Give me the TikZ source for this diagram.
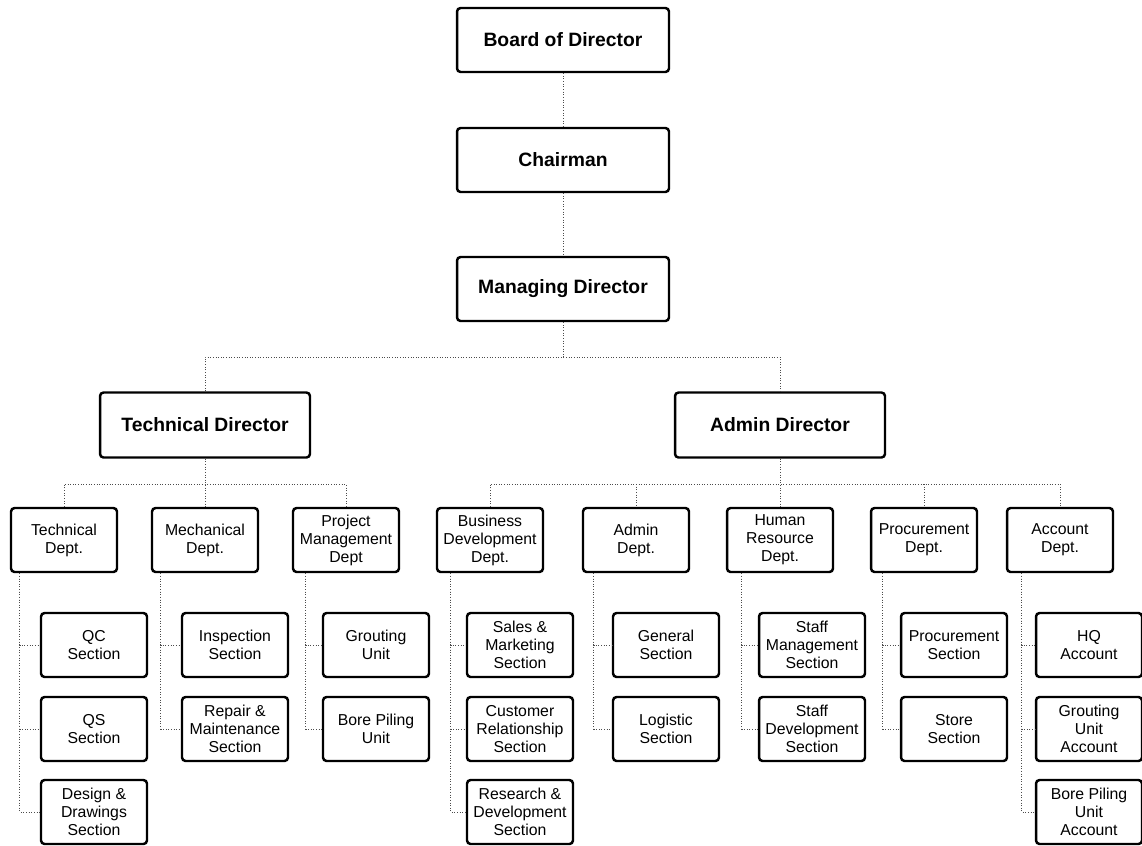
\documentclass[tikz,border=0pt]{standalone}
\usepackage{fontspec}
\setmainfont{Liberation Sans}
\usetikzlibrary{positioning}

\begin{document}
\begin{tikzpicture}[x=0.02cm,y=-0.02cm,
  topbox/.style={draw,line width=1.4pt,rounded corners=2pt,fill=white,
    minimum width=4.24cm,minimum height=1.28cm,font=\fontsize{11}{13}\selectfont\bfseries},
  dirbox/.style={topbox,minimum width=4.2cm,minimum height=1.3cm},
  unitbox/.style={draw,line width=1.4pt,rounded corners=2pt,fill=white,align=center,inner sep=1pt,
    minimum width=2.12cm,minimum height=1.28cm,font=\fontsize{9}{10.2}\selectfont},
  link/.style={densely dotted,line width=0.5pt,black!70}]
\useasboundingbox (0,0) rectangle (1142,845);

\node[topbox] (board) at (563,40) {Board of Director};
\node[topbox] (chair) at (563,160) {Chairman};
\node[topbox] (md) at (563,289) {Managing Director};
\node[dirbox] (td) at (205,425) {Technical Director};
\node[dirbox] (ad) at (780,425) {Admin Director};

\node[unitbox] (tdept) at (64,540) {Technical\\Dept.};
\node[unitbox] (mdept) at (205,540) {Mechanical\\Dept.};
\node[unitbox] (pm) at (346,540) {Project\\Management\\Dept};
\node[unitbox] (bd) at (490,540) {Business\\Development\\Dept.};
\node[unitbox] (adm) at (636,540) {Admin\\Dept.};
\node[unitbox] (hr) at (780,540) {Human\\Resource\\Dept.};
\node[unitbox] (proc) at (924,540) {Procurement\\Dept.};
\node[unitbox] (acc) at (1060,540) {Account\\Dept.};

\node[unitbox] (qc) at (94,645) {QC\\Section};
\node[unitbox] (qs) at (94,729) {QS\\Section};
\node[unitbox] (dds) at (94,812) {Design \&\\Drawings\\Section};
\node[unitbox] (insp) at (235,645) {Inspection\\Section};
\node[unitbox] (rms) at (235,729) {Repair \&\\Maintenance\\Section};
\node[unitbox] (gu) at (376,645) {Grouting\\Unit};
\node[unitbox] (bpu) at (376,729) {Bore Piling\\Unit};
\node[unitbox] (sms) at (520,645) {Sales \&\\Marketing\\Section};
\node[unitbox] (crs) at (520,729) {Customer\\Relationship\\Section};
\node[unitbox] (rds) at (520,812) {Research \&\\Development\\Section};
\node[unitbox] (gen) at (666,645) {General\\Section};
\node[unitbox] (log) at (666,729) {Logistic\\Section};
\node[unitbox] (smg) at (812,645) {Staff\\Management\\Section};
\node[unitbox] (sdv) at (812,729) {Staff\\Development\\Section};
\node[unitbox] (prs) at (954,645) {Procurement\\Section};
\node[unitbox] (sts) at (954,729) {Store\\Section};
\node[unitbox] (hqa) at (1089,645) {HQ\\Account};
\node[unitbox] (gua) at (1089,729) {Grouting\\Unit\\Account};
\node[unitbox] (bpa) at (1089,812) {Bore Piling\\Unit\\Account};

\coordinate (split) at (563,357);
\coordinate (tbus) at (205,484);
\coordinate (abus) at (780,484);

\draw[link] (board) -- (chair);
\draw[link] (chair) -- (md);
\draw[link] (md) -- (split);
\draw[link] (td.north) |- (split) -| (ad.north);

\draw[link] (td.south) -- (mdept.north);
\draw[link] (tdept.north) |- (tbus) -| (pm.north);
\draw[link] (ad.south) -- (hr.north);
\draw[link] (bd.north) |- (abus) -| (acc.north);
\draw[link] (adm.north |- abus) -- (adm.north);
\draw[link] (proc.north |- abus) -- (proc.north);

\draw[link] ([xshift=0.2cm]tdept.south west) |- (qc.west);
\draw[link] ([xshift=0.2cm]tdept.south west) |- (qs.west);
\draw[link] ([xshift=0.2cm]tdept.south west) |- (dds.west);
\draw[link] ([xshift=0.2cm]mdept.south west) |- (insp.west);
\draw[link] ([xshift=0.2cm]mdept.south west) |- (rms.west);
\draw[link] ([xshift=0.28cm]pm.south west) |- (gu.west);
\draw[link] ([xshift=0.28cm]pm.south west) |- (bpu.west);
\draw[link] ([xshift=0.3cm]bd.south west) |- (sms.west);
\draw[link] ([xshift=0.3cm]bd.south west) |- (crs.west);
\draw[link] ([xshift=0.3cm]bd.south west) |- (rds.west);
\draw[link] ([xshift=0.24cm]adm.south west) |- (gen.west);
\draw[link] ([xshift=0.24cm]adm.south west) |- (log.west);
\draw[link] ([xshift=0.32cm]hr.south west) |- (smg.west);
\draw[link] ([xshift=0.32cm]hr.south west) |- (sdv.west);
\draw[link] ([xshift=0.26cm]proc.south west) |- (prs.west);
\draw[link] ([xshift=0.26cm]proc.south west) |- (sts.west);
\draw[link] ([xshift=0.32cm]acc.south west) |- (hqa.west);
\draw[link] ([xshift=0.32cm]acc.south west) |- (gua.west);
\draw[link] ([xshift=0.32cm]acc.south west) |- (bpa.west);
\end{tikzpicture}
\end{document}
